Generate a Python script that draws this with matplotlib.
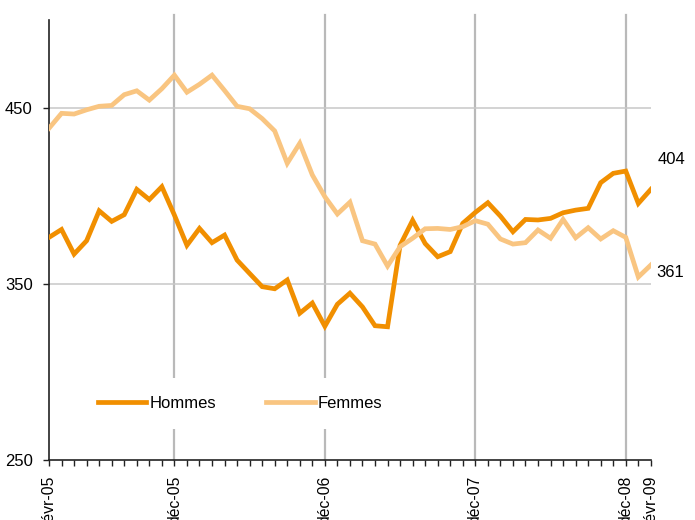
import matplotlib
matplotlib.use("Agg")
import matplotlib.pyplot as plt
import numpy as np

plt.rcParams["font.family"] = ["Liberation Sans", "DejaVu Sans"]

# Monthly series, févr-05 .. févr-09
hommes = [376.5, 381, 367, 374.6, 391.6, 385.6, 389.4, 403.8, 398, 405.3,
          389.2, 372, 381.6, 373.5, 377.8, 363.6, 356, 348.5, 347.3, 352.3,
          333.4, 339.2, 326, 338.5, 344.8, 337, 326.3, 325.7, 372, 386.2,
          373, 365.5, 368.4, 384.5, 390.7, 396.2, 388.6, 379.7, 386.7, 386.4,
          387.3, 390.5, 392, 393, 407.6, 412.9, 414.2, 395.8, 403.8]
femmes = [438.5, 447, 446.6, 449, 451, 451.5, 457.6, 459.8, 454.5, 461,
          468.7, 459, 463.5, 468.7, 460, 451, 449.6, 444, 437, 418.6,
          430, 412, 399.6, 389.8, 396.5, 374.6, 372.7, 360.2, 371.2, 376,
          381.4, 381.6, 381, 382.6, 386, 384, 375.6, 372.7, 373.5, 380.7,
          376, 386.7, 376.3, 382, 375.6, 380.3, 376.5, 354, 360.8]

labels_at = {0: "févr-05", 10: "déc-05", 22: "déc-06", 34: "déc-07",
             46: "déc-08", 48: "févr-09"}
grid_months = [10, 22, 34, 46]
end_labels = ["404", "361"]

fig = plt.figure(figsize=(6.95, 5.2), dpi=100)
ax = fig.add_axes([0.0705, 0.1154, 0.866, 0.846])

x = np.arange(len(hommes))

for m in grid_months:
    ax.axvline(m, ymin=0, ymax=1.011, color="#b9b9b9", lw=1.6, zorder=1, clip_on=False)
for v in [350, 450]:
    ax.axhline(v, color="#c8c8c8", lw=1.1, zorder=1)

ax.plot(x, hommes, color="#f18f00", lw=3.4, solid_joinstyle="miter", label="Hommes", zorder=3)
ax.plot(x, femmes, color="#f9c581", lw=3.4, solid_joinstyle="miter", label="Femmes", zorder=3)

ax.text(48.5, 420.5, end_labels[0], fontsize=12, ha="left", va="center")
ax.text(48.4, 356.5, end_labels[1], fontsize=12, ha="left", va="center")

ax.set_xlim(0, 48)
ax.set_ylim(250, 500)
ax.set_yticks([250, 350, 450])
ax.set_xticks(x)
ax.set_xticklabels([labels_at.get(i, "") for i in x], rotation=90, ha="center", va="top")

ax.tick_params(axis="both", direction="out", length=4.3, width=1, color="#222222",
               labelsize=12, pad=7.5)
ax.tick_params(axis="x", labelsize=11.3, pad=7)
for side in ["top", "right"]:
    ax.spines[side].set_visible(False)
for side in ["left", "bottom"]:
    ax.spines[side].set_color("#222222")
    ax.spines[side].set_linewidth(1.2)

leg = ax.legend(loc="center", bbox_to_anchor=(0.318, 0.1285), ncol=2, fontsize=12,
                handlelength=2.9, handletextpad=0.2, columnspacing=3.0,
                borderpad=1.1, frameon=True, fancybox=False, framealpha=1)
leg.get_frame().set_facecolor("white")
leg.get_frame().set_edgecolor("none")

fig.savefig("out.png", dpi=100)
